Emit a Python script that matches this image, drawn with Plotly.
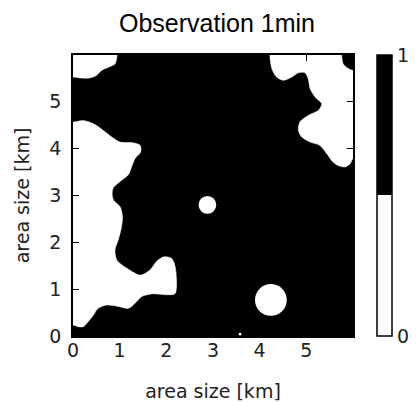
import plotly.graph_objects as go

# ---- data (km) ----
title_text = "Observation 1min"
axis_label = "area size [km]"
tick_vals = [0, 1, 2, 3, 4, 5]
background_value = [[1]]          # whole domain flagged 1 (black)
domain_size = 6.0

# regions flagged 0 (white), boundaries in km
nw_x = [-0.1, -0.1, 0.02, 0.15, 0.36, 0.51, 0.61, 0.76, 0.90, 0.94, 0.95]
nw_y = [6.1, 5.53, 5.53, 5.51, 5.51, 5.57, 5.67, 5.74, 5.81, 5.95, 6.1]

west_x = [-0.1, 0.02, 0.22, 0.44, 0.65, 0.83, 1.01, 1.26, 1.44, 1.45, 1.33, 1.26,
          1.19, 1.01, 0.86, 0.84, 0.87, 1.01, 1.06, 1.04, 0.97, 0.90, 0.94, 1.15,
          1.44, 1.65, 1.79, 1.94, 2.11, 2.19, 2.19, 2.01, 1.72, 1.47, 1.33, 1.19,
          0.97, 0.72, 0.54, 0.44, 0.33, 0.22, 0.11, 0.02, -0.1]
west_y = [4.57, 4.57, 4.60, 4.53, 4.39, 4.25, 4.14, 4.13, 4.07, 3.93, 3.79, 3.62,
          3.45, 3.30, 3.16, 3.02, 2.90, 2.76, 2.55, 2.33, 2.05, 1.84, 1.62, 1.45,
          1.30, 1.41, 1.59, 1.69, 1.66, 1.48, 0.91, 0.88, 0.90, 0.84, 0.70, 0.59,
          0.63, 0.66, 0.59, 0.45, 0.31, 0.20, 0.20, 0.23, 0.23]

ne_x = [4.22, 4.22, 4.26, 4.36, 4.51, 4.69, 4.83, 4.97, 5.04, 5.08, 5.19, 5.33,
        5.26, 5.04, 4.86, 4.83, 4.90, 5.08, 5.29, 5.44, 5.54, 5.68, 5.83, 5.94,
        6.0, 6.1, 6.1, 6.0, 5.90, 5.79, 5.76, 5.76]
ne_y = [6.1, 5.96, 5.71, 5.53, 5.46, 5.53, 5.62, 5.62, 5.49, 5.28, 5.10, 4.96,
        4.82, 4.71, 4.57, 4.39, 4.25, 4.14, 4.07, 3.89, 3.75, 3.64, 3.61, 3.68,
        3.79, 3.79, 5.67, 5.67, 5.71, 5.81, 5.96, 6.1]

# round isolated spots flagged 0
spot_x = [2.88, 4.24, 3.58]
spot_y = [2.80, 0.77, 0.04]
spot_r = [0.19, 0.34, 0.03]

# ---- figure ----
colorscale = [[0, "white"], [0.5, "white"], [0.5, "black"], [1, "black"]]
fig = go.Figure()
fig.add_trace(go.Heatmap(
    z=background_value, x0=domain_size / 2, dx=domain_size,
    y0=domain_size / 2, dy=domain_size,
    zmin=0, zmax=1, colorscale=colorscale, hoverinfo="skip",
    colorbar=dict(
        x=1.0857, xanchor="left", xpad=0, y=0.5, yanchor="middle", ypad=0,
        len=1, lenmode="fraction", thickness=15,
        outlinewidth=1.5, outlinecolor="black",
        tickvals=[0, 1], ticktext=["0", "1"], ticks="",
        tickfont=dict(family="DejaVu Sans", size=19, color="#222"),
    ),
))

for xs, ys in [(nw_x, nw_y), (west_x, west_y), (ne_x, ne_y)]:
    fig.add_trace(go.Scatter(
        x=xs, y=ys, mode="lines", fill="toself", fillcolor="white",
        line=dict(color="white", width=0.5, shape="spline", smoothing=0.8),
        hoverinfo="skip", showlegend=False,
    ))

for cx, cy, r in zip(spot_x, spot_y, spot_r):
    fig.add_shape(type="circle", xref="x", yref="y",
                  x0=cx - r, x1=cx + r, y0=cy - r, y1=cy + r,
                  fillcolor="white", line=dict(width=0), layer="above")

axis_common = dict(
    range=[0, domain_size], tickvals=tick_vals, ticks="inside", ticklen=6,
    tickwidth=1, tickcolor="black", showline=True, linecolor="black",
    linewidth=1.5, mirror="ticks", showgrid=False, zeroline=False,
    automargin=False,
    tickfont=dict(family="DejaVu Sans", size=19, color="#222"),
)
fig.update_xaxes(**axis_common, ticklabelstandoff=-4,
                 title=dict(text=axis_label, standoff=25,
                            font=dict(family="DejaVu Sans", size=19, color="#222")))
fig.update_yaxes(**axis_common, ticklabelstandoff=6,
                 title=dict(text=axis_label, standoff=15,
                            font=dict(family="DejaVu Sans", size=19, color="#222")))

# page body adds an 8px offset, so the figure is sized to end at the window edge
fig.update_layout(
    width=409, height=394,
    margin=dict(l=65, r=64, t=47, b=66, autoexpand=False),
    paper_bgcolor="white", plot_bgcolor="white",
    title=dict(text=title_text, x=0.511, xanchor="center", y=0.962, yanchor="middle",
               font=dict(family="Liberation Sans, Arial", size=25, color="black")),
    showlegend=False,
)

fig.write_html("out.html")
